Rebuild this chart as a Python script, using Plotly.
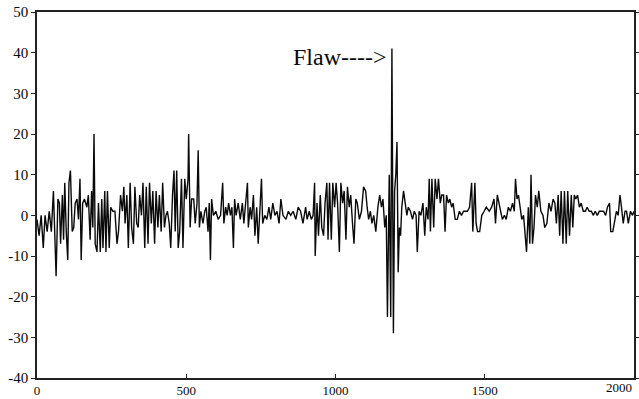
import plotly.graph_objects as go

# Sample positions (scan index) and amplitudes
sample_x = [0, 7, 14, 21, 27, 34, 41, 48, 55, 60, 64, 70, 75, 79, 85, 89, 93, 98, 103, 107,
            112, 118, 123, 128, 134, 139, 144, 148, 153, 159, 167, 172, 178, 183, 187, 191, 195, 201, 206, 212,
            217, 221, 227, 231, 236, 242, 247, 254, 261, 268, 273, 280, 286, 291, 295, 301, 306, 312, 317, 323,
            328, 334, 339, 344, 350, 355, 361, 366, 372, 377, 383, 388, 394, 399, 405, 410, 416, 421, 427, 432,
            437, 443, 448, 454, 459, 463, 468, 473, 478, 484, 489, 495, 500, 506, 508, 513, 518, 525, 530, 536,
            540, 544, 549, 556, 562, 567, 573, 577, 581, 585, 591, 599, 607, 615, 622, 626, 632, 637, 642, 648,
            653, 658, 662, 667, 674, 681, 688, 693, 699, 705, 708, 714, 719, 725, 730, 736, 741, 747, 752, 756,
            763, 770, 777, 783, 790, 797, 804, 811, 817, 824, 834, 842, 850, 858, 867, 875, 883, 891, 900, 905,
            912, 919, 925, 930, 932, 938, 943, 949, 954, 960, 965, 971, 975, 980, 986, 991, 997, 1002, 1007, 1013,
            1018, 1024, 1029, 1035, 1040, 1046, 1051, 1057, 1062, 1068, 1073, 1080, 1087, 1094, 1101, 1106, 1111, 1117, 1122, 1128,
            1135, 1142, 1148, 1154, 1159, 1165, 1170, 1174, 1180, 1185, 1189, 1194, 1198, 1202, 1206, 1210, 1214, 1218, 1222, 1228,
            1233, 1239, 1244, 1251, 1258, 1264, 1270, 1274, 1280, 1286, 1293, 1299, 1304, 1310, 1314, 1318, 1323, 1329, 1334, 1340,
            1345, 1351, 1356, 1362, 1367, 1372, 1378, 1383, 1389, 1394, 1401, 1408, 1415, 1422, 1429, 1435, 1442, 1449, 1456, 1460,
            1467, 1471, 1476, 1483, 1490, 1498, 1505, 1515, 1523, 1531, 1536, 1542, 1548, 1553, 1559, 1566, 1572, 1579, 1586, 1593,
            1599, 1603, 1608, 1613, 1619, 1624, 1630, 1635, 1640, 1646, 1651, 1655, 1660, 1665, 1670, 1676, 1681, 1688, 1695, 1701,
            1708, 1715, 1722, 1729, 1735, 1740, 1746, 1751, 1756, 1762, 1767, 1773, 1778, 1784, 1790, 1795, 1800, 1805, 1811, 1817,
            1823, 1830, 1837, 1843, 1850, 1857, 1864, 1870, 1877, 1884, 1891, 1898, 1905, 1911, 1918, 1922, 1929, 1935, 1941, 1947,
            1953, 1958, 1964, 1970, 1975, 1981, 1988, 1995, 2000]

amplitude = [-1, -5, 0, -8, 0, -4, 1, -4, 6, -4, -15, 4, 3, -7, 5, -6, 8, -4, -11, 8,
             11, -4, -3, 3, 4, -1, 9, -11, 3, 4, 2, 5, -6, 6, -3, 20, -7, -9, 3, -9,
             4, -8, 6, -9, 6, -8, 2, 1, 1, -7, -4, 5, 1, 7, -2, 5, -8, 8, -3, -7,
             7, -2, -3, 5, 0, 8, -8, 7, -7, 8, -2, 6, -7, 6, -3, 5, -4, 8, -3, 0,
             1, -2, -8, 5, 11, -4, 11, -8, -4, 9, -8, 9, 4, 9, 20, -3, 4, 4, -2, 3,
             16, -3, 1, -2, 1, 2, -4, 3, -11, 4, 0, 1, -1, 0, 8, -2, 2, 0, 3, 0,
             2, -8, 4, 0, 3, -1, 3, -2, 4, 8, -3, 2, -1, 5, -5, 2, -7, 4, 9, -2,
             0, -1, 2, -1, 3, 0, 1, -2, 4, 0, -1, 1, 0, 1, -1, 2, 1, -2, 2, -1,
             1, -1, 0, 8, -10, 3, -5, 5, -3, -5, 3, 8, -6, 8, -6, 8, 2, 8, 3, -9,
             8, 3, 6, -6, 7, 2, 5, -2, -7, 4, 3, -1, 1, 7, 6, 2, -1, 1, -2, 0,
             -4, 2, 5, 2, 4, -3, 0, -25, 10, -25, 41, -29, 6, 10, 18, -14, -3, -5, 2, 6,
             3, 0, 2, 1, -1, 1, 0, -9, 1, 0, 3, -5, 2, -1, 9, -4, 9, -3, 9, 4,
             9, 3, 5, 5, -4, 5, 3, 4, 2, 3, -1, -1, 1, 0, 1, 1, 1, 2, 8, -4,
             8, -2, -4, -4, 0, 1, 2, 1, 2, 4, -2, 5, 3, 1, -1, 0, -1, 2, 1, 3,
             1, 9, 4, 5, 2, -1, 0, -5, -9, 2, -7, 10, -7, -3, 5, 2, 6, 1, 0, -3,
             -2, 3, 1, 4, 3, -2, 5, -5, 6, -7, 6, -7, 6, -5, 5, -3, 5, 4, 5, 2,
             3, 1, 1, 2, 1, 1, 0, 1, 0, 1, 1, 1, 0, 2, 3, -4, -4, -1, 1, 0,
             5, 2, -2, 1, 1, -2, 1, 0, 1]

x_ticks = [0, 500, 1000, 1500]
x_last_tick = 2000
y_ticks = [-40, -30, -20, -10, 0, 10, 20, 30, 40, 50]
flaw_label = "Flaw---->"

fig = go.Figure()
fig.add_trace(go.Scatter(
    x=sample_x, y=amplitude, mode="lines",
    line=dict(color="#0a0a0a", width=1.4),
    showlegend=False,
))

fig.add_annotation(
    x=1180, y=39, text=flaw_label, showarrow=False,
    xanchor="right", yanchor="middle",
    font=dict(family="Liberation Serif", size=24, color="#0a0a0a"),
)

# Last x tick label, shifted left inside the page as in the original
fig.add_annotation(
    x=x_last_tick, xref="x", y=0, yref="paper", text=str(x_last_tick), showarrow=False,
    xanchor="right", yanchor="top", yshift=0,
    font=dict(family="Liberation Serif", size=13, color="#0a0a0a"),
)

fig.update_xaxes(
    range=[0, 2000], tickvals=x_ticks + [x_last_tick],
    ticktext=[str(v) for v in x_ticks] + [""],
    showgrid=False, zeroline=False, showline=True, linecolor="#222222", linewidth=1.5,
    mirror=True, ticks="inside", ticklen=4, tickcolor="#222222", automargin=False,
    tickfont=dict(family="Liberation Serif", size=13, color="#0a0a0a"),
)
fig.update_yaxes(
    range=[-40, 50], tickvals=y_ticks, ticktext=[str(v) for v in y_ticks],
    showgrid=False, zeroline=False, showline=True, linecolor="#222222", linewidth=1.5,
    mirror="ticks", ticks="outside", ticklen=4, tickcolor="#222222", automargin=False,
    tickfont=dict(family="Liberation Serif", size=15, color="#0a0a0a"),
)

fig.update_layout(
    width=639, height=399,
    margin=dict(l=37, r=5, t=12, b=21),
    paper_bgcolor="white", plot_bgcolor="white",
)

fig.write_html("out.html")
